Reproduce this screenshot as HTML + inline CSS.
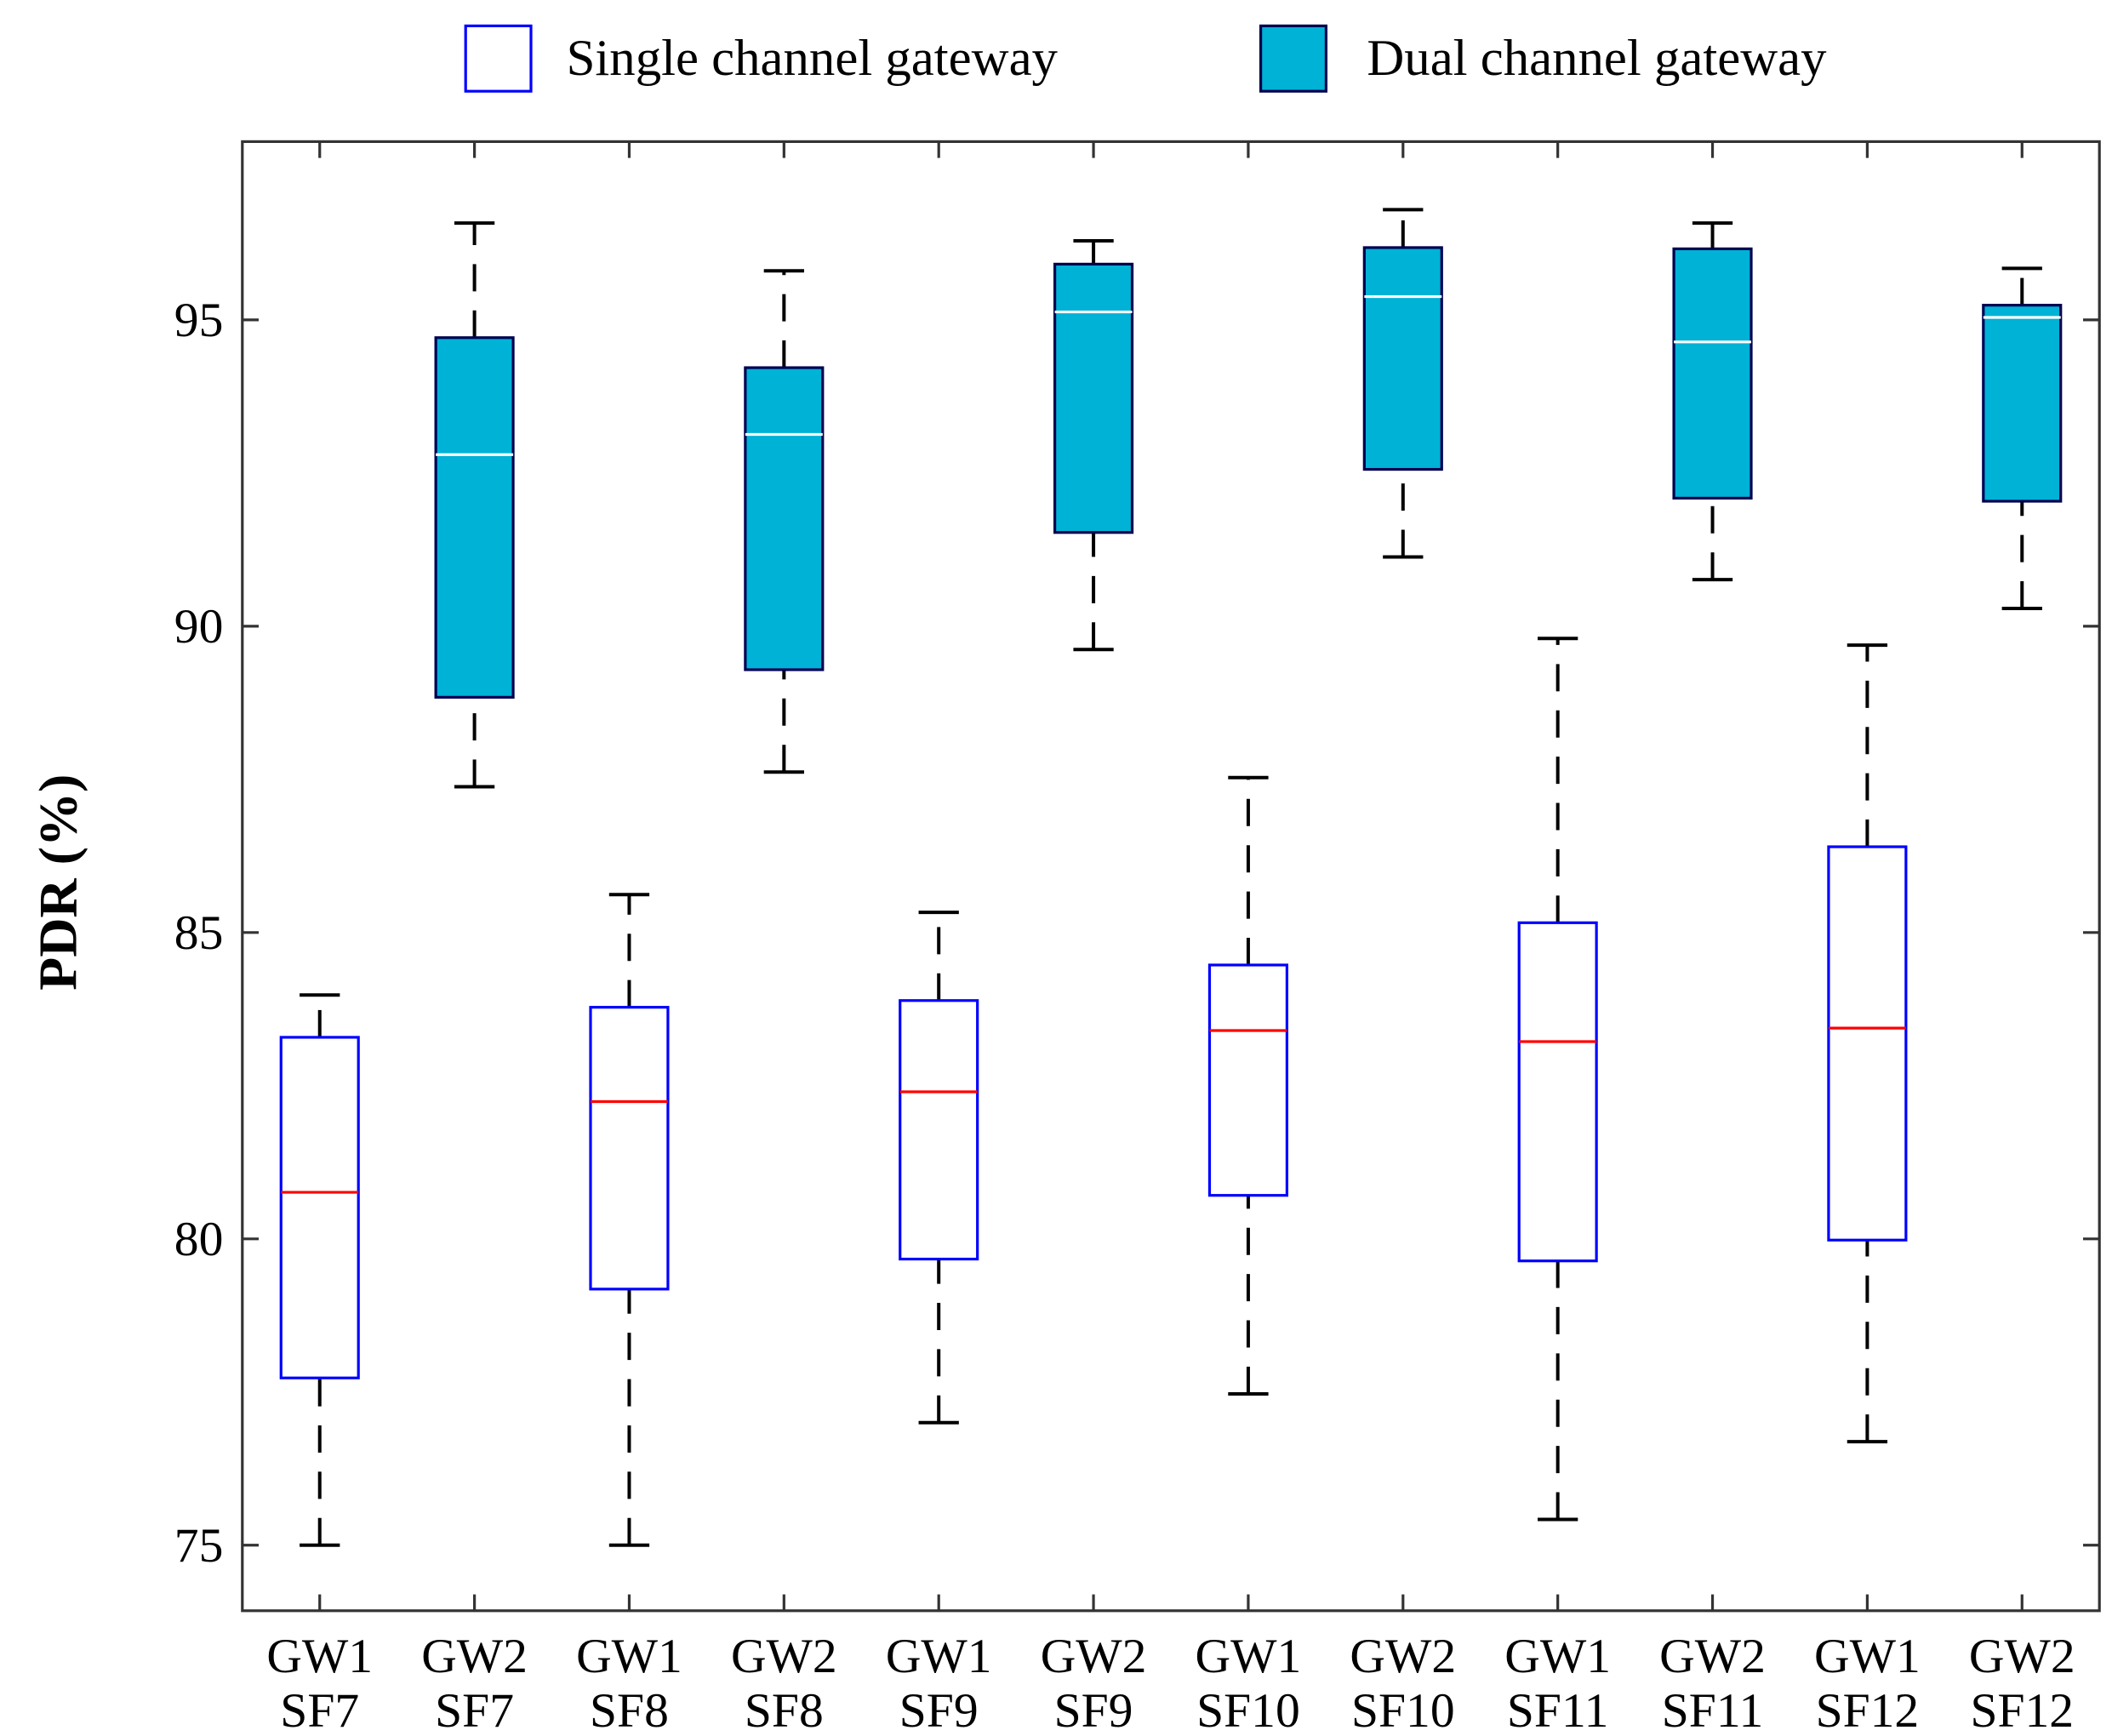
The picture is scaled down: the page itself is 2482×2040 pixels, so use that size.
<!DOCTYPE html>
<html><head><meta charset="utf-8"><style>
html,body{margin:0;padding:0;background:#fff}
svg{display:block}
text{font-family:"Liberation Serif",serif;fill:#000}
</style></head><body>
<svg id="chart" width="2482" height="2040" viewBox="0 0 1551.25 1275" xmlns="http://www.w3.org/2000/svg">
<g id="legend">
  <g>
    <rect x="342" y="19" width="48" height="48" fill="#fff" stroke="#0000ff" stroke-width="2"/>
    <text x="416" y="55" font-size="38">Single channel gateway</text>
  </g>
  <g>
    <rect x="926" y="19" width="48" height="48" fill="#00b2d6" stroke="#000050" stroke-width="2"/>
    <text x="1004" y="55" font-size="38">Dual channel gateway</text>
  </g>
</g>
<g id="plot"></g>
<text transform="translate(56,648) rotate(-90)" font-size="40" font-weight="bold" text-anchor="middle">PDR (%)</text>
</svg>
<script>
const categories = ["GW1 SF7","GW2 SF7","GW1 SF8","GW2 SF8","GW1 SF9","GW2 SF9","GW1 SF10","GW2 SF10","GW1 SF11","GW2 SF11","GW1 SF12","GW2 SF12"];
const gatewayType = ["single","dual","single","dual","single","dual","single","dual","single","dual","single","dual"];
const whiskerLow = [75.0,87.38,75.0,87.62,77.0,89.62,77.47,91.13,75.42,90.76,76.69,90.29];
const q1 = [77.73,88.84,79.18,89.29,79.67,91.53,80.71,92.56,79.64,92.09,79.98,92.04];
const median = [80.76,92.8,82.24,93.13,82.4,95.13,83.4,95.38,83.22,94.64,83.44,95.04];
const q3 = [83.29,94.71,83.78,94.22,83.89,95.91,84.47,96.18,85.16,96.16,86.4,95.24];
const whiskerHigh = [83.98,96.58,85.62,95.8,85.33,96.29,87.53,96.8,89.8,96.58,89.69,95.84];
const yTicks = [75,80,85,90,95];

const L=178,R=1542,T=104,B=1183;
const yMin=73.93,yMax=97.91;
const y=v=>B-(v-yMin)/(yMax-yMin)*(B-T);
const x=i=>L+(i+0.5)*(R-L)/categories.length;
const unit=(R-L)/categories.length;
const NS="http://www.w3.org/2000/svg";
const g=document.getElementById('plot');
function el(tag,attrs,parent){const e=document.createElementNS(NS,tag);for(const k in attrs)e.setAttribute(k,attrs[k]);(parent||g).appendChild(e);return e;}

const frame=el('rect',{x:L,y:T,width:R-L,height:B-T,fill:'none',stroke:'#333',"stroke-width":2});



yTicks.forEach(v=>{
  const t1=el('line',{x1:L,x2:L+12,y1:y(v),y2:y(v),stroke:'#333','stroke-width':2});
  
  
  const t2=el('line',{x1:R-12,x2:R,y1:y(v),y2:y(v),stroke:'#333','stroke-width':2});
  
  
  const tx=el('text',{x:L-14,y:y(v)+12,'font-size':36,'text-anchor':'end'});
  tx.textContent=v;
  
  
});

categories.forEach((c,i)=>{
  const cx=x(i);
  const a=el('line',{x1:cx,x2:cx,y1:B,y2:B-12,stroke:'#333','stroke-width':2});
  
  
  const b=el('line',{x1:cx,x2:cx,y1:T,y2:T+12,stroke:'#333','stroke-width':2});
  
  
  const parts=c.split(' ');
  const t=el('text',{x:cx,y:1228,'font-size':36,'text-anchor':'middle'});
  
  
  const s1=el('tspan',{x:cx,dy:0},t);s1.textContent=parts[0];
  const s2=el('tspan',{x:cx,dy:40},t);s2.textContent=parts[1];

  const dual=gatewayType[i]==='dual';
  const bg=el('g',{});
  
  
  const cap=unit*0.13,hw=unit*0.25;
  [[whiskerLow[i],q1[i]],[q3[i],whiskerHigh[i]]].forEach(([a1,a2])=>{
    const w=el('line',{x1:cx,x2:cx,y1:y(a1),y2:y(a2),stroke:'#000','stroke-width':2.5,'stroke-dasharray':'20,14'},bg);
    
    
  });
  [whiskerLow[i],whiskerHigh[i]].forEach(v=>{
    const k=el('line',{x1:cx-cap,x2:cx+cap,y1:y(v),y2:y(v),stroke:'#000','stroke-width':2.5},bg);
    
    
  });
  const r=el('rect',{x:cx-hw,y:y(q3[i]),width:2*hw,height:y(q1[i])-y(q3[i]),fill:dual?'#00b2d6':'#fff',stroke:dual?'#000050':'#0000ff','stroke-width':2},bg);
  
  
  const m=el('line',{x1:cx-hw,x2:cx+hw,y1:y(median[i]),y2:y(median[i]),stroke:dual?'#fff':'#ff0000','stroke-width':2},bg);
  
  
});
</script>
</body></html>
